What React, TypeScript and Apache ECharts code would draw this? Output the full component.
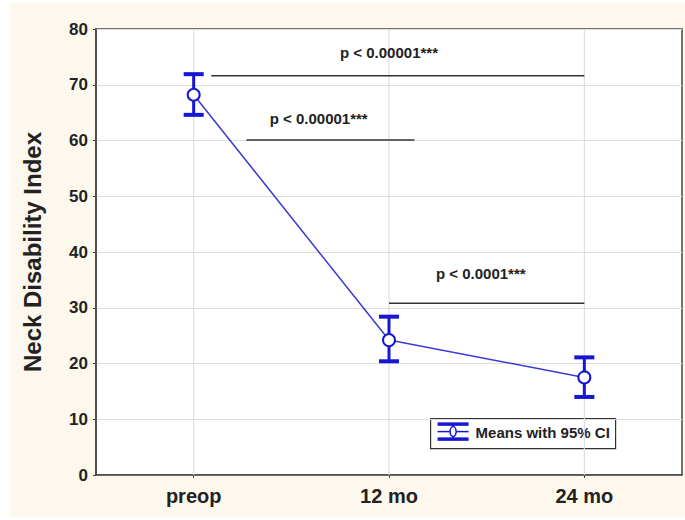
import React, { useEffect, useRef } from "react";
import * as echarts from "echarts";

const categories = ["preop", "12 mo", "24 mo"];
const means = [68.2, 24.2, 17.5];
const ciLower = [64.6, 20.4, 14.0];
const ciUpper = [71.9, 28.4, 21.1];
const yMin = 0;
const yMax = 80;
const yInterval = 10;
const yAxisTitle = "Neck Disability Index";
const legendLabel = "Means with 95% CI";

// significance brackets (x positions in category-index units)
const sigLabels = ["p < 0.00001***", "p < 0.00001***", "p < 0.0001***"];
const sigLevel = [71.6, 60.1, 30.8];
const sigFrom = [0.09, 0.27, 1];
const sigTo = [2, 1.13, 2];
const sigLabelX = [1, 0.64, 1.47];
const sigLabelY = [75.7, 64.0, 36.1];

const FONT = "'Liberation Sans', Arial, sans-serif";
const BLUE = "#1616d4";
const LINE_BLUE = "#3b3bd0";

export default function App() {
  const ref = useRef<HTMLDivElement>(null);
  useEffect(() => {
    const chart = echarts.init(ref.current!, null, { renderer: "svg" });
    const option: any = {
      animation: false,
      backgroundColor: "transparent",
      grid: {
        left: 96,
        top: 29,
        width: 586,
        height: 446,
        show: true,
        backgroundColor: "#ffffff",
        borderColor: "#444",
        borderWidth: 1.5,
      },
      xAxis: {
        type: "category",
        data: categories,
        boundaryGap: true,
        axisLine: { show: true, lineStyle: { color: "#444", width: 1.5 } },
        axisTick: { show: true, alignWithLabel: true, length: 3, lineStyle: { color: "#444" } },
        axisLabel: { fontSize: 20, fontWeight: "bold", color: "#222", margin: 11, fontFamily: FONT },
        splitLine: { show: false },
      },
      yAxis: {
        type: "value",
        min: yMin,
        max: yMax,
        interval: yInterval,
        name: yAxisTitle,
        nameLocation: "middle",
        nameGap: 52,
        nameRotate: 90,
        nameTextStyle: { fontSize: 24, fontWeight: "bold", color: "#222", fontFamily: FONT },
        axisLine: { show: true, lineStyle: { color: "#444", width: 1.5 } },
        axisTick: { show: true, length: 3, lineStyle: { color: "#444" } },
        axisLabel: { fontSize: 17, fontWeight: "bold", color: "#222", margin: 8, fontFamily: FONT },
        splitLine: { show: true, lineStyle: { color: "#dedede", width: 1.2 } },
      },
      series: [
        {
          type: "custom",
          z: 1,
          silent: true,
          data: categories.map((c, i) => [i, 0]),
          renderItem: (params: any, api: any) => {
            const cs = params.coordSys;
            const x = api.coord([api.value(0), 0])[0];
            return {
              type: "line",
              shape: { x1: x, y1: cs.y, x2: x, y2: cs.y + cs.height },
              style: { stroke: "#dedede", lineWidth: 1.2 },
            };
          },
        },
        {
          type: "line",
          z: 2,
          data: means,
          symbol: "none",
          lineStyle: { color: LINE_BLUE, width: 1.5 },
        },
        {
          type: "custom",
          z: 3,
          data: means.map((m, i) => [i, ciLower[i], ciUpper[i], m]),
          renderItem: (params: any, api: any) => {
            const i = api.value(0);
            const lo = api.coord([i, api.value(1)]);
            const hi = api.coord([i, api.value(2)]);
            const mid = api.coord([i, api.value(3)]);
            const hw = 10;
            const r = 6;
            return {
              type: "group",
              children: [
                {
                  type: "line",
                  shape: { x1: lo[0], y1: lo[1], x2: mid[0], y2: mid[1] + r },
                  style: { stroke: BLUE, lineWidth: 3 },
                },
                {
                  type: "line",
                  shape: { x1: hi[0], y1: hi[1], x2: mid[0], y2: mid[1] - r },
                  style: { stroke: BLUE, lineWidth: 3 },
                },
                {
                  type: "line",
                  shape: { x1: lo[0] - hw, y1: lo[1], x2: lo[0] + hw, y2: lo[1] },
                  style: { stroke: BLUE, lineWidth: 4 },
                },
                {
                  type: "line",
                  shape: { x1: hi[0] - hw, y1: hi[1], x2: hi[0] + hw, y2: hi[1] },
                  style: { stroke: BLUE, lineWidth: 4 },
                },
                {
                  type: "circle",
                  shape: { cx: mid[0], cy: mid[1], r: r },
                  style: { fill: "#ffffff", stroke: BLUE, lineWidth: 2 },
                },
              ],
            };
          },
        },
        {
          type: "custom",
          z: 3,
          silent: true,
          data: sigLevel.map((v, i) => [i, v]),
          renderItem: (params: any, api: any) => {
            const k = params.dataIndex;
            const p0 = api.coord([0, sigLevel[k]]);
            const p1 = api.coord([1, sigLevel[k]]);
            const band = p1[0] - p0[0];
            const ty = api.coord([0, sigLabelY[k]])[1];
            return {
              type: "group",
              children: [
                {
                  type: "line",
                  shape: {
                    x1: p0[0] + sigFrom[k] * band,
                    y1: p0[1],
                    x2: p0[0] + sigTo[k] * band,
                    y2: p0[1],
                  },
                  style: { stroke: "#333", lineWidth: 1.5 },
                },
                {
                  type: "text",
                  x: p0[0] + sigLabelX[k] * band,
                  y: ty,
                  style: {
                    text: sigLabels[k],
                    fill: "#222",
                    font: `bold 15px ${FONT}`,
                    align: "center",
                    verticalAlign: "middle",
                  },
                },
              ],
            };
          },
        },
      ],
      graphic: [
        {
          type: "group",
          left: 430,
          top: 418,
          children: [
            {
              type: "rect",
              shape: { x: 0, y: 0, width: 185, height: 30 },
              style: { fill: "#ffffff", stroke: "#333", lineWidth: 1.2 },
            },
            {
              type: "line",
              shape: { x1: 7, y1: 5.5, x2: 38, y2: 5.5 },
              style: { stroke: BLUE, lineWidth: 3.5 },
            },
            {
              type: "line",
              shape: { x1: 7, y1: 20.5, x2: 38, y2: 20.5 },
              style: { stroke: BLUE, lineWidth: 3.5 },
            },
            {
              type: "line",
              shape: { x1: 7, y1: 13, x2: 38, y2: 13 },
              style: { stroke: BLUE, lineWidth: 1.5 },
            },
            {
              type: "line",
              shape: { x1: 22.5, y1: 5.5, x2: 22.5, y2: 20.5 },
              style: { stroke: BLUE, lineWidth: 1.5 },
            },
            {
              type: "ellipse",
              shape: { cx: 22.5, cy: 13, rx: 3, ry: 5 },
              style: { fill: "#ffffff", stroke: BLUE, lineWidth: 1.5 },
            },
            {
              type: "text",
              x: 45,
              y: 14,
              style: {
                text: legendLabel,
                fill: "#222",
                font: `bold 15px ${FONT}`,
                verticalAlign: "middle",
              },
            },
          ],
        },
      ],
    };
    chart.setOption(option);
    return () => chart.dispose();
  }, []);

  return (
    <div style={{ position: "absolute", left: 0, top: 0, width: 685, height: 520, background: "#ffffff" }}>
      <div
        style={{ position: "absolute", left: 10, top: 3, width: 675, height: 514, background: "#fcf8ee" }}
      />
      <div ref={ref} style={{ position: "absolute", left: 0, top: 0, width: 685, height: 520 }} />
    </div>
  );
}
